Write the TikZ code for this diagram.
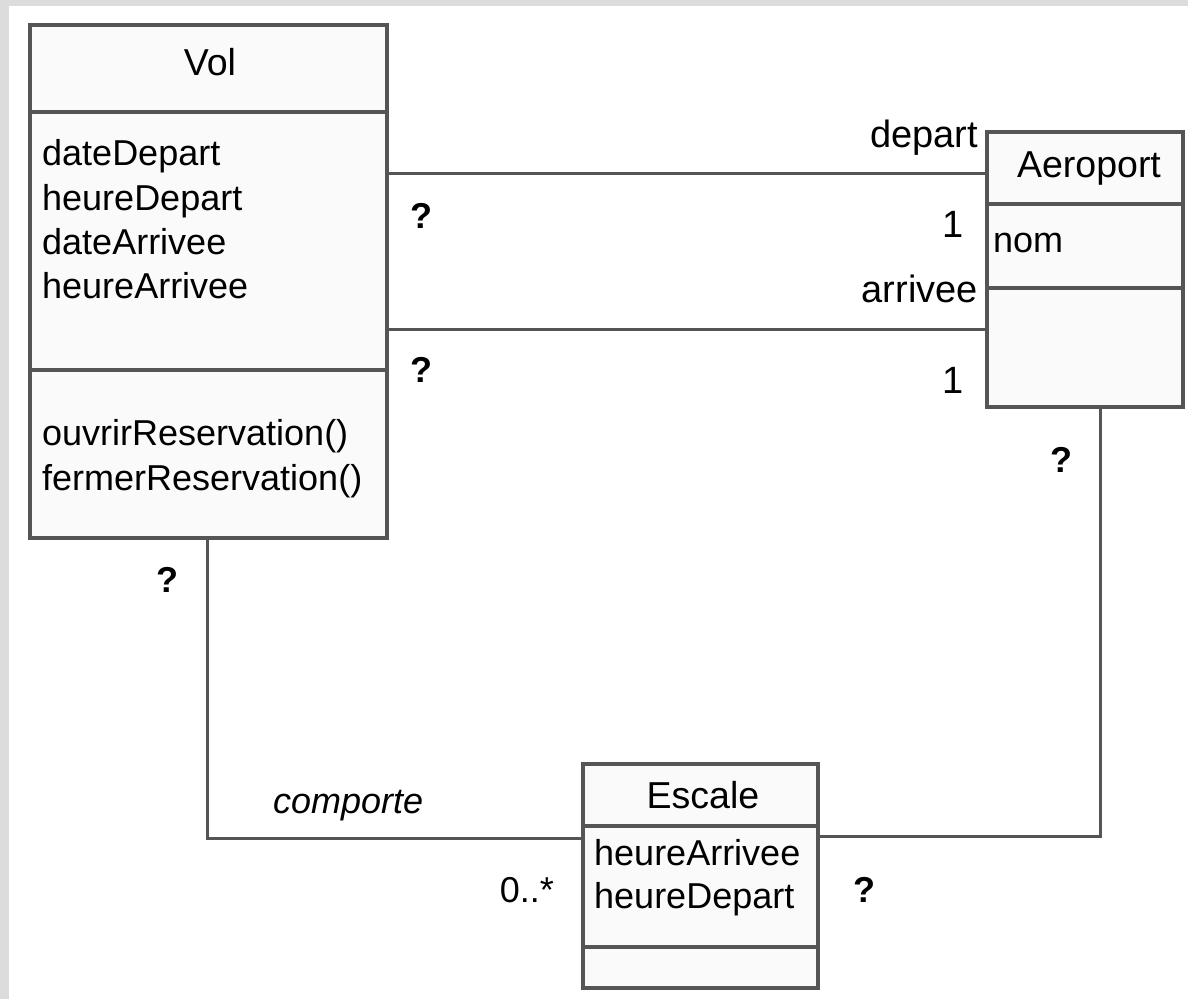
\documentclass[tikz,border=0pt]{standalone}
\usepackage{fontspec}
\setmainfont{Liberation Sans}
\definecolor{linegray}{HTML}{555555}
\definecolor{boxfill}{HTML}{FAFAFA}
\definecolor{framegray}{HTML}{DCDCDC}
\begin{document}
\begin{tikzpicture}[x=1pt,y=-1pt,
  classbox/.style={draw=linegray, fill=boxfill, line width=3.5pt, rectangle,
    inner sep=0pt, outer sep=0pt, anchor=north west},
  divider/.style={draw=linegray, line width=3.5pt},
  assoc/.style={draw=linegray, line width=3pt},
  body/.style={font=\fontsize{36}{43}\selectfont, inner sep=0pt, text=black},
  title/.style={body, font=\fontsize{37.5}{45}\selectfont, anchor=base},
  member/.style={body, anchor=base west},
  role/.style={body, font=\fontsize{38}{45}\selectfont, anchor=base east},
  mult/.style={body, anchor=base east},
  unknown/.style={body, font=\fontsize{36}{43}\bfseries\selectfont, anchor=base}]

% page and frame strips
\path[use as bounding box, fill=white] (0,0) rectangle (1188,999);
\fill[framegray] (0,0) rectangle (9,999);
\fill[framegray] (0,0) rectangle (1188,6);

% class Vol
\node[classbox, minimum width=357pt, minimum height=513pt] (vol) at (30,25) {};
\draw[divider] (vol.west |- 0,112) -- (vol.east |- 0,112);
\draw[divider] (vol.west |- 0,370) -- (vol.east |- 0,370);
\node[title] (volname) at (210,75) {Vol};
\node[member] (va1) at (42,165) {dateDepart};
\node[member] (va2) at (42,210) {heureDepart};
\node[member] (va3) at (42,254) {dateArrivee};
\node[member] (va4) at (42,298) {heureArrivee};
\node[member] (vo1) at (42,445) {ouvrirReservation()};
\node[member] (vo2) at (42,490) {fermerReservation()};

% class Aeroport
\node[classbox, minimum width=196pt, minimum height=275pt] (aero) at (987,132) {};
\draw[divider] (aero.west |- 0,204) -- (aero.east |- 0,204);
\draw[divider] (aero.west |- 0,288) -- (aero.east |- 0,288);
\node[title] (aeroname) at (1089,177) {Aeroport};
\node[member] (aa1) at (993,252) {nom};

% class Escale
\node[classbox, minimum width=235pt, minimum height=224pt] (escale) at (583,764) {};
\draw[divider] (escale.west |- 0,826) -- (escale.east |- 0,826);
\draw[divider] (escale.west |- 0,947) -- (escale.east |- 0,947);
\node[title] (escname) at (703,808) {Escale};
\node[member] (ea1) at (594,865) {heureArrivee};
\node[member] (ea2) at (594,908) {heureDepart};

% associations
\draw[assoc] (vol.east |- 0,173) -- (aero.west |- 0,173);
\draw[assoc] (vol.east |- 0,329) -- (aero.west |- 0,329);
\draw[assoc] (vol.south -| 207,0) |- (escale.west |- 0,838);
\draw[assoc] (escale.east |- 0,836) -| (aero.south -| 1100,0);

% role names and multiplicities
\node[role] (rdep) at (978,147) {depart};
\node[role] (rarr) at (978,302) {arrivee};
\node[mult, font=\fontsize{38}{45}\selectfont] (m1) at (964,237) {1};
\node[mult, font=\fontsize{38}{45}\selectfont] (m2) at (964,393) {1};
\node[mult] (m3) at (554,902) {0..*};
\node[unknown] (q1) at (421,228) {?};
\node[unknown] (q2) at (421,382) {?};
\node[unknown] (q3) at (1061,472) {?};
\node[unknown] (q4) at (167,592) {?};
\node[unknown] (q5) at (864,902) {?};
\node[body, anchor=base west, font=\fontsize{36}{43}\itshape\selectfont] (comp) at (273,813) {comporte};
\end{tikzpicture}
\end{document}
